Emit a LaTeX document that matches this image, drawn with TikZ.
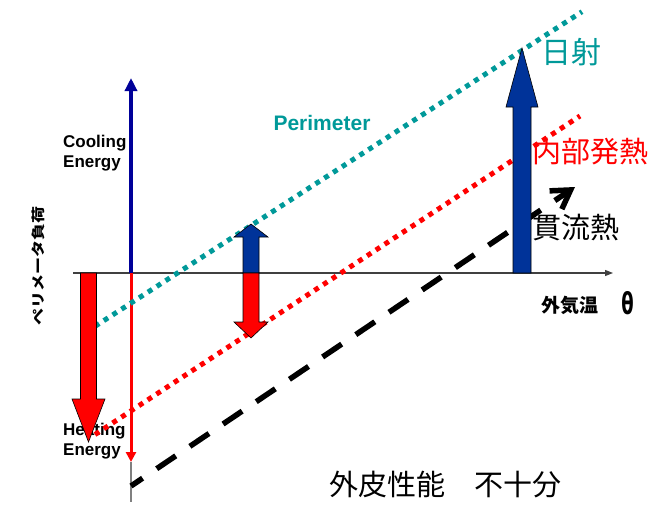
\documentclass[tikz,border=0pt]{standalone}
\usepackage{fontspec}
\usepackage{graphicx}
\setmainfont{Liberation Sans}
\newfontfamily\jp{Noto Sans CJK JP}
\newfontfamily\dejavu{DejaVu Sans}
\usetikzlibrary{arrows.meta}
\definecolor{tealc}{RGB}{0,153,153}
\definecolor{navyc}{RGB}{0,0,153}
\definecolor{bluec}{RGB}{0,51,153}
\definecolor{redc}{RGB}{255,0,0}
\begin{document}
\begin{tikzpicture}[x=1pt,y=-1pt,
  lbl/.style={inner sep=0pt,font=\bfseries\fontsize{17}{20}\selectfont,align=left,anchor=north west},
  jptxt/.style={inner sep=0pt,font=\jp\fontsize{29}{29}\selectfont},
  tealdots/.style={draw=tealc,line width=5pt,dash pattern=on 5pt off 5.5pt},
  reddots/.style={draw=redc,line width=5pt,dash pattern=on 5pt off 5.5pt},
  blackdash/.style={draw=black,line width=5.5pt,dash pattern=on 23pt off 17pt,dash phase=9pt,-{Straight Barb[length=18pt,width=22pt]}},
  blockarrow/.style={draw=black,line width=0.6pt,line join=miter}
]
\useasboundingbox (0,0) rectangle (662,506);

% coordinates
\coordinate (O) at (131,273);
\coordinate (Vtop) at (131,78);
\coordinate (Vbot) at (131,462);
\coordinate (Gend) at (131,502);
\coordinate (Hl) at (73,273);
\coordinate (Hr) at (613,273);
\coordinate (T1) at (95,326.3);
\coordinate (T2) at (582,11.7);
\coordinate (R1) at (95,434.5);
\coordinate (R2) at (580,116);
\coordinate (K1) at (131,486);
\coordinate (K2) at (575,187);

% texts under the shapes
\node[lbl] (cool) at (63,135) {Cooling\\Energy};
\node[lbl] (heat) at (63,423) {Heating\\Energy};
\node[inner sep=0pt,anchor=north,text=tealc,font=\bfseries\fontsize{21}{21}\selectfont] (peri) at (322,115) {Perimeter};
\node[rotate=90,inner sep=0pt] (ylab) at (38,266) {\scalebox{1}[0.8]{\jp\bfseries\fontsize{17}{17}\selectfont ペリメータ負荷}};
\node[jptxt,text=tealc,font=\jp\fontsize{30}{30}\selectfont] (solar) at (571,52) {日射};
\node[jptxt,text=redc] (internal) at (590,152) {内部発熱};
\node[jptxt] (trans) at (576,228) {貫流熱};
\node[jptxt] (perf) at (445,485) {外皮性能　不十分};
\node[inner sep=0pt,font=\jp\bfseries\fontsize{19}{19}\selectfont] (oat) at (570,305) {外気温};
\node[inner sep=0pt] (theta) at (627.5,303.5) {\scalebox{0.6}[1]{\dejavu\bfseries\fontsize{30}{30}\selectfont θ}};

% axes
\draw[black!75,line width=1.2pt,-{Triangle[length=8pt,width=6pt]}] (Hl) -- (Hr);
\draw[navyc,line width=3.5pt,-{Triangle[length=13pt,width=12pt]}] (O) -- (Vtop);
\draw[black!50,line width=1.5pt] (Vbot) -- (Gend);
\draw[redc,line width=3pt,-{Triangle[length=10pt,width=10pt]}] (O) -- (Vbot);

% lines
\draw[tealdots] (T1) -- (T2);
\draw[reddots] (R1) -- (R2);
\draw[blackdash] (K1) -- (K2);

% block arrows
\filldraw[blockarrow,fill=redc] (80.5,273) -- (96.5,273) -- (96.5,399) -- (105,399) -- (88.5,442) -- (72,399) -- (80.5,399) -- cycle;
\filldraw[blockarrow,fill=bluec] (243,273) -- (243,237) -- (234,237) -- (251,224) -- (268,237) -- (259,237) -- (259,273) -- cycle;
\filldraw[blockarrow,fill=redc] (243,273) -- (243,322) -- (234,322) -- (251,338) -- (268,322) -- (259,322) -- (259,273) -- cycle;
\filldraw[blockarrow,fill=bluec] (513,273) -- (513,107) -- (506,107) -- (522,48) -- (538,107) -- (531,107) -- (531,273) -- cycle;
\end{tikzpicture}
\end{document}
